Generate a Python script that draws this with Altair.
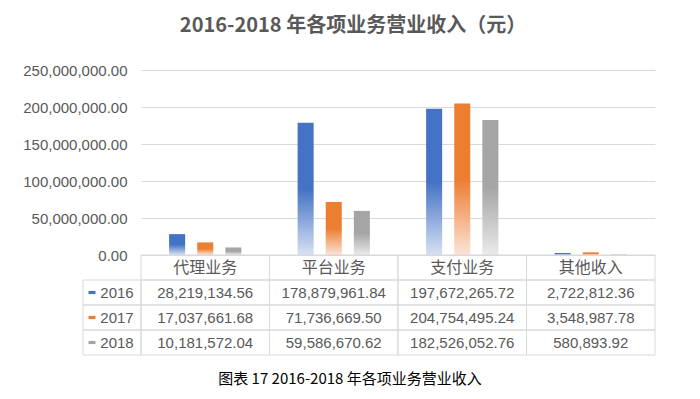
import altair as alt
import pandas as pd

categories = ["代理业务", "平台业务", "支付业务", "其他收入"]
years = ["2016", "2017", "2018"]
values_2016 = [28219134.56, 178879961.84, 197672265.72, 2722812.36]
values_2017 = [17037661.68, 71736669.50, 204754495.24, 3548987.78]
values_2018 = [10181572.04, 59586670.62, 182526052.76, 580893.92]
y_ticks = [0, 50000000, 100000000, 150000000, 200000000, 250000000]
title_text = "2016-2018 年各项业务营业收入（元）"
caption_text = "图表 17 2016-2018 年各项业务营业收入"

colors = ["#4472C4", "#ED7D31", "#A5A5A5"]
light = ["#D6E1F4", "#FCE4D6", "#EAEAEA"]

CJK = "Noto Sans CJK SC"
LAT = "Liberation Sans"
GRAY = "#595959"
LINE = "#D9D9D9"

rows = []
for yr, vals in zip(years, [values_2016, values_2017, values_2018]):
    for c, v in zip(categories, vals):
        rows.append({"cat": c, "year": yr, "value": v})
df = pd.DataFrame(rows)
cat_df = pd.DataFrame({"cat": categories, "row": ["header"] * len(categories)})
year_df = pd.DataFrame({"year": years})
cap_df = pd.DataFrame({"t": [caption_text]})

W, H = 514, 185
x_scale = alt.Scale(domain=categories, paddingInner=0, paddingOuter=0)
row_scale = alt.Scale(domain=["header"] + years, range=[H, H + 100],
                      paddingInner=0, paddingOuter=0)
X = alt.X("cat:N", scale=x_scale, sort=categories, axis=None)


def grad(c, l):
    return {"gradient": "linear", "x1": 0, "y1": 0, "x2": 0, "y2": 1,
            "stops": [{"offset": 0, "color": c},
                      {"offset": 0.5, "color": c},
                      {"offset": 1, "color": l}]}


y_axis = alt.Axis(values=y_ticks, format=",.2f", grid=True, gridColor=LINE,
                  domain=False, ticks=False, labelPadding=14, labelFont=LAT,
                  labelFontSize=15, labelColor=GRAY, title=None)

bar_layers = []
for yr, c, l in zip(years, colors, light):
    bar_layers.append(
        alt.Chart(df).transform_filter(alt.datum.year == yr).mark_bar().encode(
            x=X,
            xOffset=alt.XOffset("year:N", scale=alt.Scale(domain=years, paddingInner=0.43,
                                                          paddingOuter=1.0)),
            y=alt.Y("value:Q", scale=alt.Scale(domain=[0, 250000000], nice=False), axis=y_axis),
            fill=alt.value(grad(c, l)),
        )
    )
bars = alt.layer(*bar_layers)

cell_style = dict(fillOpacity=0, stroke=LINE, strokeWidth=1)
header_cells = alt.Chart(cat_df).mark_rect(**cell_style).encode(
    x=X, y=alt.Y("row:N", scale=row_scale, axis=None))
value_cells = alt.Chart(df).mark_rect(**cell_style).encode(
    x=X, y=alt.Y("year:N", scale=row_scale, axis=None))
legend_cells = alt.Chart(year_df).mark_rect(**cell_style).encode(
    x=alt.value(-58), x2=alt.value(0), y=alt.Y("year:N", scale=row_scale, axis=None))
header_text = alt.Chart(cat_df).mark_text(font=CJK, fontSize=16, color=GRAY).encode(
    x=X, y=alt.Y("row:N", scale=row_scale, axis=None), text="cat:N")
value_text = alt.Chart(df).mark_text(font=LAT, fontSize=15, color=GRAY).encode(
    x=X, y=alt.Y("year:N", scale=row_scale, axis=None),
    text=alt.Text("value:Q", format=",.2f"))
year_text = alt.Chart(year_df).mark_text(font=LAT, fontSize=15, color=GRAY).encode(
    x=alt.value(-24), y=alt.Y("year:N", scale=row_scale, axis=None), text="year:N")
markers = alt.Chart(year_df).mark_point(
    shape="M -1 -0.45 L 1 -0.45 L 1 0.45 L -1 0.45 Z", filled=True, size=49, opacity=1
).encode(
    x=alt.value(-49), y=alt.Y("year:N", scale=row_scale, axis=None),
    color=alt.Color("year:N", scale=alt.Scale(domain=years, range=colors), legend=None))

table = alt.layer(header_cells, value_cells, legend_cells, header_text, value_text,
                  year_text, markers)

caption = alt.Chart(cap_df).mark_text(font=CJK, fontSize=15, color="#000000").encode(
    x=alt.value(209), y=alt.value(309), text="t:N")

chart = alt.layer(bars, table, caption).resolve_scale(y="independent").properties(
    width=W, height=H,
    title=alt.TitleParams(text=title_text, font=CJK, fontSize=20, fontWeight="bold",
                          color=GRAY, anchor="middle", frame="group", dx=-45, offset=27),
    autosize=alt.AutoSizeParams(type="none"),
    padding={"left": 133, "top": 62, "right": 30, "bottom": 136},
).configure_view(strokeWidth=0)

chart.save("out.html", embed_options={"renderer": "svg", "actions": False})
